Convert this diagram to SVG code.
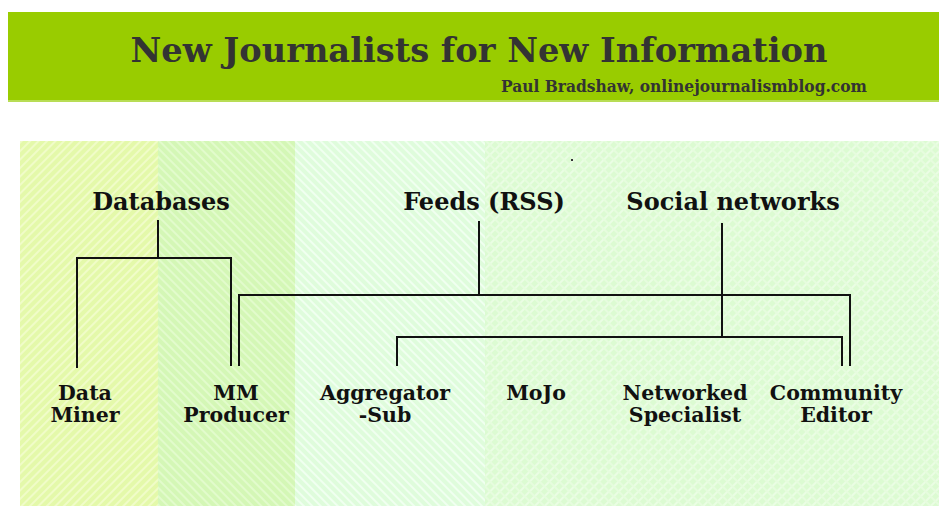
<svg xmlns="http://www.w3.org/2000/svg" width="939" height="506" viewBox="0 0 939 506">
<defs>
<pattern id="p1" width="6" height="6" patternUnits="userSpaceOnUse" patternTransform="rotate(45)"><rect width="6" height="6" fill="#e4f9aa"/><rect width="2" height="6" fill="#f0fcc8"/></pattern>
<pattern id="p2" width="6" height="6" patternUnits="userSpaceOnUse" patternTransform="rotate(-45)"><rect width="6" height="6" fill="#d4f7b6"/><rect width="2" height="6" fill="#e2fbcc"/></pattern>
<pattern id="p3" width="6" height="6" patternUnits="userSpaceOnUse" patternTransform="rotate(-45)"><rect width="6" height="6" fill="#dffcdc"/><rect width="2" height="6" fill="#f0fff0"/></pattern>
<pattern id="p4" width="7" height="7" patternUnits="userSpaceOnUse" patternTransform="rotate(45)"><rect width="7" height="7" fill="#dcfbd2"/><rect width="2" height="7" fill="#eafde4"/><rect width="7" height="2" fill="#e6fcde"/></pattern>
<style>
.h{font-family:"DejaVu Serif",Georgia,serif;font-weight:bold;font-size:24px;fill:#111;text-anchor:middle}
.n{font-family:"DejaVu Serif",Georgia,serif;font-weight:bold;font-size:20.5px;fill:#111;text-anchor:middle}
.c{fill:none;stroke:#111;stroke-width:2}
.t{font-family:"DejaVu Serif",Georgia,serif;font-weight:bold;fill:#333;text-anchor:middle}
</style>
</defs>
<rect width="939" height="506" fill="#fff"/>
<g id="header">
<rect x="8" y="12" width="931" height="90" fill="#99cc00"/>
<rect x="8" y="100" width="931" height="2" fill="#b8dd55"/>
<text class="t" x="479" y="62" font-size="34" textLength="697" lengthAdjust="spacingAndGlyphs">New Journalists for New Information</text>
<text class="t" x="684" y="92" font-size="16" textLength="366" lengthAdjust="spacingAndGlyphs">Paul Bradshaw, onlinejournalismblog.com</text>
</g>
<g id="background">
<rect x="20" y="141" width="138" height="365" fill="url(#p1)"/>
<rect x="158" y="141" width="137" height="365" fill="url(#p2)"/>
<rect x="295" y="141" width="190" height="365" fill="url(#p3)"/>
<rect x="485" y="141" width="454" height="365" fill="url(#p4)"/>
<rect x="571" y="159" width="2" height="2" fill="#333"/>
</g>
<g id="connectors">
<path class="c" d="M158 220V258M77 368V258H231V366"/>
<path class="c" d="M479 221V295M239 366V295H850V366"/>
<path class="c" d="M722 223V337M397 366V337H842V366"/>
</g>
<g id="databases"><text class="h" x="161" y="210">Databases</text></g>
<g id="feeds"><text class="h" x="484" y="210">Feeds (RSS)</text></g>
<g id="social"><text class="h" x="733" y="210">Social networks</text></g>
<g id="dataminer"><text class="n" x="85" y="400">Data</text><text class="n" x="85" y="422">Miner</text></g>
<g id="mmproducer"><text class="n" x="236" y="400">MM</text><text class="n" x="236" y="422">Producer</text></g>
<g id="aggregator"><text class="n" x="385" y="400">Aggregator</text><text class="n" x="385" y="422">-Sub</text></g>
<g id="mojo"><text class="n" x="536" y="400">MoJo</text></g>
<g id="networked"><text class="n" x="685" y="400">Networked</text><text class="n" x="685" y="422">Specialist</text></g>
<g id="community"><text class="n" x="836" y="400">Community</text><text class="n" x="836" y="422">Editor</text></g>
</svg>
